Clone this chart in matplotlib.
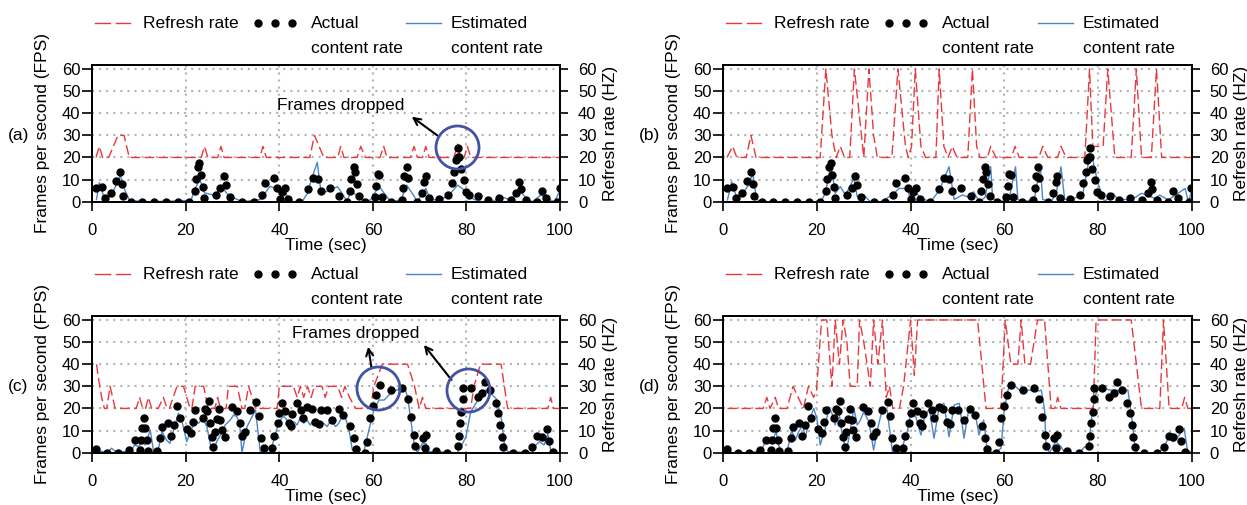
import matplotlib
matplotlib.use("Agg")
import matplotlib.pyplot as plt

plt.rcParams['font.family'] = ['Liberation Sans', 'DejaVu Sans']
plt.rcParams['font.size'] = 12.5
plt.rcParams['xtick.labelsize'] = 12
plt.rcParams['ytick.labelsize'] = 12

# (time sec, value) pairs

# actual content rate, panels (a) and (b)
ab_actual = [(0.9, 6.3), (2.1, 6.6), (2.7, 1.8), (3.9, 4.1), (5.1, 9.4), (5.9, 13.4), (6.4, 8.1), (6.6, 2.7),
             (8.2, 0), (10.7, 0), (13.2, 0), (15.7, 0), (18.3, 0), (20.7, 0), (21.9, 4.8), (22.2, 10.4),
             (22.6, 15.5), (22.9, 17.3), (23.3, 11.9), (23.7, 6.6), (23.9, 1.5), (26.4, 3.2), (27.4, 6.3),
             (28.1, 11.6), (28.5, 7.4), (29.5, 2.1), (32.1, 0), (34.6, 0), (36.3, 3.2), (36.9, 8.6),
             (38.8, 10.9), (39.5, 6.3), (40.1, 1), (40.6, 4.4), (41.1, 6.2), (41.9, 1), (44.1, 0), (46.1, 5.6),
             (47.2, 10.9), (48.2, 10.3), (48.9, 4.8), (50.8, 6.0), (52.8, 2.4), (54.5, 0), (55.1, 4.8),
             (55.4, 10.1), (55.9, 15.8), (56.1, 13.3), (56.6, 7.8), (57.0, 2.4), (58.4, 0), (60.4, 2.3),
             (60.7, 7.1), (61.1, 12.5), (61.4, 12.1), (61.9, 2), (63.8, 0), (66.2, 0.8), (66.5, 6.3),
             (66.7, 11.5), (67.2, 15.5), (67.5, 10.6), (69.4, 0), (70.4, 3.8), (71.0, 9.0), (71.3, 11.8),
             (72.0, 1.5), (74.1, 1.4), (76.1, 3.0), (76.8, 8.3), (77.4, 13.6), (77.7, 18.9), (78.1, 20),
             (78.2, 24.1), (78.4, 20.4), (78.8, 14.9), (79.4, 9.8), (79.9, 4.2), (80.6, 3.0), (82.5, 2.4),
             (84.5, 0.8), (86.9, 1.7), (89.5, 0.8), (90.6, 3.8), (91.3, 9), (91.6, 5.6), (92.7, 0.8),
             (95.0, 0), (96.1, 4.8), (97.0, 1.8), (99.4, 0), (99.9, 6)]

a_estimated = [(0.9, 1), (1.5, 8.6), (2.5, 2), (4, 3), (5, 7), (6, 12), (7, 5), (8, 0.5), (12, 0), (18, 0.3),
               (19, 0.5), (20, 0.5), (21, 0), (22, 6), (23, 10), (24, 4), (26, 3), (28, 6), (29, 3), (31, 1),
               (32, 0), (36, 1), (38, 7), (39.5, 5.6), (40.2, 3.8), (41, 5.6), (42, 0.8), (43, 0), (45, 0.5),
               (46, 3.8), (47, 11), (48.1, 17.8), (48.8, 6), (49.9, 4.5), (52.4, 6.8), (53.4, 3.8), (54.5, 0),
               (55.2, 4.5), (55.9, 3.8), (56.6, 3), (58.1, 0), (59.5, 0.8), (61.3, 7.1), (62.4, 3.8), (63.8, 0),
               (66, 0.8), (67.2, 7.5), (68.4, 3.8), (69.5, 0), (71.3, 6), (72.3, 0.8), (74.5, 1), (76.3, 3),
               (78.1, 7.5), (79.5, 5.3), (81.6, 1), (83.4, 0), (85.6, 0), (87.4, 2.3), (89.1, 1), (91.6, 4.5),
               (93, 1), (94.1, 0), (95.9, 3), (97.7, 1), (98.8, 0), (99.9, 4.5)]

a_refresh = [(0.8, 20), (1.5, 25), (2.2, 20), (3.5, 20), (4.5, 25), (5.5, 30), (6.8, 30), (7.9, 20), (23.3, 20),
             (24.0, 25), (24.7, 20), (26.8, 20), (27.5, 25), (28.2, 20), (35.8, 20), (36.5, 25), (37.2, 20),
             (46.5, 20), (47.5, 30), (49.5, 20), (52.5, 20), (53.1, 25), (53.8, 20), (56.6, 20), (57.4, 25),
             (58.4, 20), (61.5, 20), (62.3, 25), (63.0, 20), (68.0, 20), (68.8, 25), (69.5, 20), (70.6, 20),
             (71.3, 25), (72.0, 20), (77.3, 20), (78.1, 26), (78.8, 20), (79.5, 20), (80.2, 25), (80.9, 20),
             (100, 20)]

b_estimated = [(0.9, 0.8), (1.8, 9), (2.9, 1.5), (3.9, 3), (5.4, 7.5), (6.3, 12.8), (7.1, 1), (8.2, 0), (20.8, 0),
               (21.8, 3.8), (22.9, 16.1), (23.4, 11.3), (23.9, 3.8), (25, 6.8), (26.1, 3), (27.9, 10.6),
               (28.6, 2.3), (30, 3), (31.4, 0), (33.6, 0), (36.1, 3), (37.5, 6), (39.3, 6), (40, 0.8), (41, 4.5),
               (42.2, 1.5), (44.3, 0), (46.1, 5), (48.2, 15.8), (49.3, 1), (51, 3), (52.5, 2), (53.4, 4.5),
               (54.7, 0), (55.9, 2), (57.1, 15.8), (57.5, 1.5), (59.3, 0), (61.1, 2), (62.4, 15.8), (62.9, 1),
               (64.3, 0), (66.4, 1), (67.7, 15.8), (68.2, 1), (70, 0), (71.1, 3.8), (72.1, 15.8), (72.9, 1),
               (75, 1.5), (76.8, 3.8), (78.2, 20.4), (78.9, 18.9), (80, 8.3), (81.4, 0), (83.2, 3.8), (84.3, 1),
               (85.7, 1), (87.1, 0.8), (89.3, 3.8), (91.1, 2.3), (92.2, 1.5), (93.2, 3), (95, 0.8), (97.1, 3.8),
               (98.6, 6), (99.3, 0), (100, 4.5)]

b_refresh = [(0.8, 20), (2.0, 25), (2.9, 20), (4.9, 20), (5.9, 30), (7.0, 20), (20.7, 20), (21.9, 60), (23.2, 30),
             (24.1, 20), (25.0, 25), (25.9, 20), (27.0, 20), (28.0, 60), (30.0, 20), (31.1, 60), (32.1, 30),
             (32.9, 20), (36.0, 20), (37.3, 60), (38.9, 25), (39.5, 20), (40.2, 25), (41.0, 60), (42.2, 25),
             (43.2, 20), (45.4, 20), (46.1, 60), (47.1, 25), (48.0, 20), (48.9, 25), (49.9, 20), (52.2, 20),
             (53.2, 60), (54.1, 25), (54.8, 20), (56.4, 20), (57.1, 25), (58.2, 20), (61.5, 20), (62.3, 25),
             (63.2, 20), (67.4, 20), (68.2, 25), (69.3, 20), (71.4, 20), (72.1, 25), (73.2, 20), (77.2, 20),
             (78.2, 60), (78.9, 25), (81.1, 25), (82.1, 60), (83.6, 20), (87.1, 20), (88.2, 60), (89.3, 20),
             (91.4, 20), (92.5, 60), (93.6, 20), (100, 20)]

# actual content rate, panels (c) and (d)
cd_actual = [(0.9, 1.5), (3.1, 0), (5.6, 0), (7.9, 1.2), (9.1, 5.7), (10.1, 1.2), (10.4, 5.7), (10.7, 11),
             (11.0, 15.8), (11.2, 11), (11.6, 5.7), (12.0, 0.6), (13.9, 0.9), (14.4, 6.5), (14.9, 11.5),
             (16.1, 13.3), (16.9, 7.5), (17.4, 12.5), (18.1, 21.1), (18.8, 15.8), (20.2, 10.6), (21.1, 8.7),
             (21.5, 14), (22.0, 19.3), (23.6, 15.8), (24.1, 19.7), (24.5, 19), (24.9, 23.5), (25.2, 13.3),
             (25.6, 7.2), (25.9, 2.7), (26.3, 9.5), (26.6, 15.1), (27.0, 19.6), (27.4, 14.8), (27.7, 10.2),
             (28.4, 7.2), (29.9, 20.5), (31.0, 19), (31.6, 13.3), (32.0, 7.5), (32.7, 9.5), (33.8, 19.3),
             (35.1, 23), (35.6, 16.6), (36.1, 6.5), (36.8, 2), (38.4, 2.3), (38.9, 7.5), (39.6, 13.3),
             (40.0, 18), (40.6, 22.6), (41.3, 19), (42.0, 13.3), (42.4, 12.1), (42.7, 17.3), (43.8, 22.6),
             (44.6, 19.3), (45.1, 15.5), (46.0, 20.5), (47.0, 19.9), (47.7, 13.7), (48.5, 13), (48.8, 19.3),
             (50.2, 19.3), (51.3, 14.8), (52.7, 19.6), (53.7, 17), (55.2, 12.1), (55.9, 6.5), (56.3, 1.5),
             (58.2, 0), (58.8, 5), (59.4, 15.5), (60.0, 21.1), (60.6, 26.1), (61.5, 30.6), (63.9, 28.3),
             (66.3, 29.4), (67.4, 24.1), (68.1, 16), (68.7, 8), (69.0, 3), (70.6, 6.5), (71.1, 2), (71.3, 8),
             (73.4, 0.9), (75.9, 0), (78.1, 3), (78.4, 7.5), (78.6, 13.6), (78.9, 18.5), (79.2, 24.1),
             (79.2, 29.1), (80.9, 29.1), (82.4, 25.3), (83.4, 27.1), (84.0, 32.1), (85.1, 28.3), (86.3, 22.3),
             (86.8, 17.8), (87.2, 12.5), (87.5, 7.2), (87.9, 2.4), (89.9, 0), (92.5, 0), (94.1, 2.7),
             (95.1, 7.7), (96.1, 7.2), (97.2, 10.6), (97.7, 5.4), (98.6, 0.5)]

c_estimated = [(0.9, 1.2), (3.1, 0), (4.1, 2), (5.0, 0.5), (8.0, 0.5), (9.1, 3.5), (9.9, 2.7), (10.6, 5),
               (11.3, 3.5), (12.4, 10.2), (13.1, 0.5), (14.1, 1.2), (14.9, 9.5), (15.9, 5.7), (16.6, 4.2),
               (17.4, 10.2), (18.4, 17.8), (19.1, 14.8), (20.2, 5), (21.3, 11), (22.0, 14.8), (22.7, 13.3),
               (23.6, 15.5), (24.5, 11.8), (25.2, 4.2), (25.9, 1.2), (26.6, 5), (27.4, 8), (28.4, 12.5),
               (29.5, 14.8), (30.2, 17), (30.9, 16.3), (31.5, 13.3), (32.0, 0), (32.4, 4.2), (33.1, 11.8),
               (33.8, 14.8), (34.9, 19.3), (35.9, 0.5), (38.0, 0), (38.8, 5.7), (39.9, 14), (40.9, 16.6),
               (41.6, 14.8), (42.4, 11.8), (43.1, 14), (43.8, 12.5), (44.5, 16), (45.2, 13.3), (45.9, 14.8),
               (46.6, 12.5), (47.4, 14.8), (48.2, 12.5), (49.1, 14), (50.2, 11.8), (51.1, 14.8), (52.0, 11.8),
               (52.7, 13.3), (53.8, 17.8), (54.9, 10.2), (55.6, 1.2), (56.5, 0), (58.0, 0), (58.6, 5.4),
               (59.4, 12.5), (60.2, 19.3), (61.3, 23.8), (62.4, 23.8), (63.4, 26), (64.9, 28.3), (66.0, 28.6),
               (66.7, 29.8), (67.4, 25.3), (68.1, 14.8), (68.8, 4.2), (69.5, 0), (70.6, 4.2), (71.3, 4.2),
               (72.0, 0.5), (78.0, 0), (78.8, 2.7), (79.9, 7.2), (80.9, 18.5), (82.0, 22.3), (83.0, 25.3),
               (84.1, 28.3), (85.2, 26.8), (86.3, 24.6), (87.4, 16.3), (88.1, 4.2), (88.8, 0.5), (94.0, 0),
               (94.5, 2.7), (95.6, 5), (96.6, 3.5), (97.4, 8.4), (98.0, 1.2), (98.6, 0)]

c_refresh = [(0.9, 40), (1.3, 34), (2.0, 25), (2.6, 20), (3.1, 20), (3.8, 30), (4.9, 20), (9.4, 20), (10.1, 25),
             (10.8, 20), (11.4, 20), (12.0, 25), (12.7, 20), (14.1, 20), (15.2, 25), (16.0, 20), (16.5, 20),
             (17.3, 25), (18.1, 30), (19.5, 30), (20.9, 20), (21.3, 20), (22.0, 30), (23.8, 30), (24.3, 25),
             (24.8, 20), (26.2, 20), (26.8, 25), (27.4, 20), (28.6, 20), (29.1, 30), (31.0, 30), (32.0, 20),
             (32.6, 20), (33.4, 30), (34.2, 25), (34.9, 20), (39.5, 20), (40.0, 30), (43.0, 30), (43.8, 25),
             (44.5, 30), (45.2, 25), (46.0, 30), (46.8, 25), (47.5, 30), (49.1, 30), (49.8, 25), (50.5, 30),
             (52.5, 30), (53.3, 25), (54.0, 30), (55.0, 25), (56.3, 20), (59.5, 20), (60.2, 30), (62.0, 40),
             (67.4, 40), (68.9, 30), (69.9, 20), (70.6, 25), (71.3, 20), (80.9, 20), (81.6, 30), (83.0, 40),
             (87.4, 40), (88.8, 20), (97.4, 20), (98.0, 25), (98.6, 20), (100, 20)]

d_estimated = [(0.9, 2.7), (1.8, 0), (6, 0), (8.2, 1.2), (9.1, 5.7), (10, 4.2), (10.7, 6.5), (11.3, 9.5),
               (11.8, 3.5), (12.5, 0), (13.6, 0), (14.6, 10.2), (15.4, 5.7), (16.1, 9.5), (17, 12.5), (17.5, 6.5),
               (18.2, 13.3), (19.3, 20), (20, 15.5), (20.7, 3.5), (21.8, 11), (22.5, 20.8), (23.2, 17.8),
               (23.9, 12.5), (24.6, 20), (25.4, 8), (26.3, 0.5), (27.1, 10.2), (27.9, 20), (28.6, 12.5),
               (29.3, 14.8), (30, 18.5), (31.1, 14), (32.1, 1.2), (32.9, 10.2), (33.9, 19.3), (35, 19.3),
               (36.1, 0.5), (37, 0), (37.9, 0.5), (39.3, 9.5), (40, 17.8), (41.1, 16.3), (42.2, 8), (43, 16.3),
               (44, 20), (45, 6.5), (46.1, 20.8), (47.1, 22.3), (48.2, 7.2), (49.3, 21.6), (50.4, 22.3),
               (51.4, 6.5), (52.5, 20.8), (53.9, 16.3), (54.6, 8), (55.6, 14.8), (56.4, 0.5), (58, 0), (59.3, 2),
               (60, 19.3), (60.8, 28.3), (61.4, 30.6), (62.5, 29.8), (63.6, 27.6), (65.4, 28.3), (66.8, 27.6),
               (67.9, 28.3), (68.6, 19.3), (68.9, 4.2), (69.6, 0), (71, 5), (72.1, 2.7), (72.9, 0), (76, 0),
               (77.2, 2.7), (77.9, 1.2), (78.6, 14.8), (79.3, 25.3), (80, 28.3), (81.4, 29.1), (82.5, 28.3),
               (83.9, 28.3), (85.4, 27.6), (86.4, 28.3), (87.2, 16.3), (87.9, 2.7), (88.4, 0), (93, 0),
               (94.3, 3.5), (95, 6.5), (96.1, 5), (97.1, 7.2), (98.4, 11), (99.1, 1.2), (100, 0)]

d_refresh = [(0.9, 20), (8.5, 20), (9.3, 25), (10.0, 20), (11.1, 25), (11.8, 20), (13.6, 20), (14.9, 30),
             (17.1, 20), (18.2, 30), (19.3, 25), (19.9, 28), (21.0, 60), (22.1, 60), (23.2, 30), (23.9, 60),
             (24.8, 40), (25.6, 60), (26.4, 50), (27.1, 30), (28.6, 30), (29.1, 60), (30.0, 50), (31.4, 30),
             (32.1, 60), (33.0, 40), (34.0, 60), (34.8, 25), (35.5, 30), (36.2, 20), (37.6, 20), (38.5, 30),
             (40.0, 60), (40.8, 35), (41.5, 60), (54.3, 60), (56.1, 20), (59.3, 20), (60.2, 60), (61.4, 40),
             (62.9, 40), (63.6, 60), (64.4, 40), (65.6, 40), (67.1, 60), (68.6, 60), (70.0, 20), (70.8, 20),
             (71.4, 25), (72.1, 20), (79.0, 20), (79.6, 60), (87.1, 60), (89.3, 20), (93.2, 20), (94.0, 60),
             (95.2, 20), (97.9, 20), (98.5, 25), (99.2, 20), (100, 20)]

y_ticks = [0, 10, 20, 30, 40, 50, 60]
x_ticks = [0, 20, 40, 60, 80, 100]

RED = '#e8383d'
BLUE = '#4a86c8'
RING = '#4352a3'
GRID = '#b4b4b4'


def legend(ax):
    tr = ax.transAxes
    y1, y2 = 1.305, 1.118
    ax.plot([0.006, 0.038], [y1, y1], color=RED, lw=1, transform=tr, clip_on=False)
    ax.plot([0.050, 0.081], [y1, y1], color=RED, lw=1, transform=tr, clip_on=False)
    ax.text(0.108, y1, 'Refresh rate', transform=tr, va='center')
    ax.plot([0.354, 0.390, 0.427], [y1] * 3, 'o', color='black', ms=5, transform=tr, clip_on=False)
    ax.text(0.468, y1, 'Actual', transform=tr, va='center')
    ax.text(0.468, y2, 'content rate', transform=tr, va='center')
    ax.plot([0.671, 0.746], [y1, y1], color=BLUE, lw=1, transform=tr, clip_on=False)
    ax.text(0.767, y1, 'Estimated', transform=tr, va='center')
    ax.text(0.767, y2, 'content rate', transform=tr, va='center')


def panel(rect, actual, est, refresh, tag):
    ax = fig.add_axes(rect)
    ax2 = ax.twinx()

    rx, ry = zip(*refresh)
    ex, ey = zip(*est)
    ax_, ay = zip(*actual)
    ax.plot(ex, ey, color=BLUE, lw=1, zorder=3)
    ax.plot(rx, ry, color=RED, lw=1, linestyle=(0, (7, 3)), zorder=4)
    ax.plot(ax_, ay, 'o', color='black', ms=5, zorder=5)

    for a in (ax, ax2):
        a.set_ylim(0, 61.8)
        a.set_yticks(y_ticks)
    ax.set_xlim(0, 100)
    ax.set_xticks(x_ticks)
    ax.grid(True, color=GRID, linestyle=(0, (1, 2.4)), linewidth=1.5)
    ax.set_axisbelow(True)

    ax.tick_params(axis='y', length=7, width=1.2, pad=1.5)
    ax.tick_params(axis='x', length=6.5, width=1.2, pad=9)
    ax2.tick_params(axis='y', length=6, width=1.2, pad=7)
    for a in (ax, ax2):
        for s in a.spines.values():
            s.set_linewidth(1.3)

    ax.set_xlabel('Time (sec)', labelpad=0)
    ax.set_ylabel('Frames per second (FPS)')
    ax.yaxis.set_label_coords(-0.090, 0.5)
    ax2.set_ylabel('Refresh rate (HZ)')
    ax2.yaxis.set_label_coords(1.091, 0.5)

    legend(ax)
    fig.text(rect[0] - 0.0595, rect[1] + rect[3] / 2 - 0.004, tag, ha='center', va='center')
    return ax


fig = plt.figure(figsize=(12.47, 5.05), dpi=100)

ax_a = panel([0.0740, 0.6006, 0.3751, 0.2707], ab_actual, a_estimated, a_refresh, '(a)')
ax_b = panel([0.5800, 0.6006, 0.3756, 0.2707], ab_actual, b_estimated, b_refresh, '(b)')
ax_c = panel([0.0740, 0.1036, 0.3751, 0.2707], cd_actual, c_estimated, c_refresh, '(c)')
ax_d = panel([0.5800, 0.1036, 0.3756, 0.2707], cd_actual, d_estimated, d_refresh, '(d)')

# frames dropped notes
arrow = dict(arrowstyle='->', color='black', lw=1.5, shrinkA=0, shrinkB=0)
ax_a.plot([77.9], [24.9], 'o', ms=31, mfc='none', mec=RING, mew=2, zorder=6)
ax_a.annotate('', xy=(68.3, 38.4), xytext=(73.8, 29.9), arrowprops=arrow)
ax_a.text(39.5, 43.7, 'Frames dropped', ha='left', va='center')

ax_c.plot([61.15, 80.4], [29.1, 28.3], 'o', ms=31, mfc='none', mec=RING, mew=2, zorder=6)
ax_c.annotate('', xy=(59.0, 47.9), xytext=(59.7, 38.2), arrowprops=arrow)
ax_c.annotate('', xy=(70.9, 48.7), xytext=(76.8, 32.9), arrowprops=arrow)
ax_c.text(42.6, 54.0, 'Frames dropped', ha='left', va='center')

fig.savefig('out.png', dpi=100)
